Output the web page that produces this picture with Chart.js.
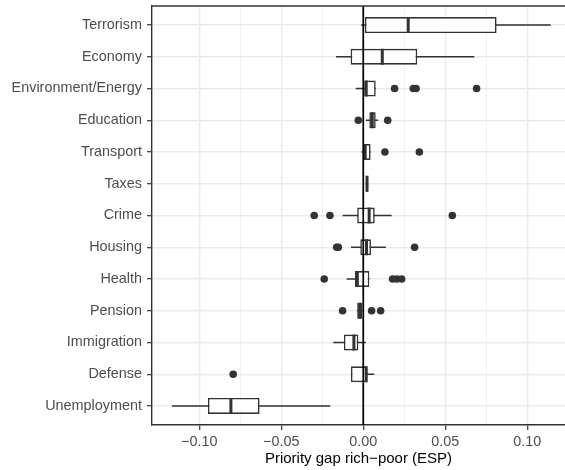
<!DOCTYPE html>
<html>
<head>
<meta charset="utf-8">
<script src="https://cdn.jsdelivr.net/npm/chart.js@4.4.1/dist/chart.umd.min.js"></script>
<style>
  html, body { margin: 0; padding: 0; background: #fff; }
  canvas { display: block; }
</style>
</head>
<body>
<canvas id="priorityGapChart" width="565" height="470"></canvas>
<script>
// topics, top to bottom
const categories = ['Terrorism', 'Economy', 'Environment/Energy', 'Education', 'Transport', 'Taxes',
    'Crime', 'Housing', 'Health', 'Pension', 'Immigration', 'Defense', 'Unemployment'];

// box plot summaries (priority gap rich - poor)
const whiskerLow  = [-0.0012, -0.0166, -0.0046, 0.0016, -0.0010, 0.0015, -0.0126, -0.0075, -0.0101, -0.0037, -0.0183, -0.0075, -0.1166];
const lowerQuart  = [ 0.0010, -0.0077,  0.0006, 0.0037,  0.0003, 0.0016, -0.0037, -0.0018, -0.0051, -0.0037, -0.0118, -0.0075, -0.0947];
const medians     = [ 0.0274,  0.0116,  0.0018, 0.0055,  0.0012, 0.0023,  0.0036,  0.0020, -0.0036, -0.0022, -0.0057,  0.0018, -0.0807];
const upperQuart  = [ 0.0813,  0.0329,  0.0076, 0.0076,  0.0045, 0.0030,  0.0070,  0.0047,  0.0037, -0.0006, -0.0030,  0.0023, -0.0632];
const whiskerHigh = [ 0.1143,  0.0677,  0.0076, 0.0091,  0.0045, 0.0030,  0.0173,  0.0138,  0.0037, -0.0006,  0.0016,  0.0067, -0.0201];
const outliers = [
    [],
    [],
    [0.0191, 0.0305, 0.0322, 0.0691],
    [-0.0030, 0.0149],
    [0.0132, 0.0342],
    [],
    [-0.0299, -0.0203, 0.0543],
    [-0.0162, -0.0152, 0.0313],
    [-0.0238, 0.0179, 0.0204, 0.0234],
    [-0.0126, 0.0051, 0.0106],
    [],
    [-0.0793],
    []
];

const xTicks = [-0.125, -0.1, -0.075, -0.05, -0.025, 0, 0.025, 0.05, 0.075, 0.1];
const referenceLine = 0;

const ink = '#333333';
const gridGrey = '#EBEBEB';
Chart.defaults.font.family = "'Liberation Sans', Arial, sans-serif";

function isMajor(v) {
    return Math.abs(v * 20 - Math.round(v * 20)) < 1e-6;
}

function formatTick(v) {
    if (!isMajor(v)) return '';
    let s = Math.abs(v).toFixed(2);
    return v < -1e-9 ? '\u2212' + s : s;
}

function noPadding(scale) {
    scale.paddingTop = 0;
    scale.paddingBottom = 0;
    scale.paddingLeft = 0;
    scale.paddingRight = 0;
}

let boxData = categories.map((c, i) => ({x: [lowerQuart[i], upperQuart[i]], y: i}));

let whiskerData = [];
let medianData = [];
let outlierData = [];
categories.forEach((c, i) => {
    whiskerData.push({x: whiskerLow[i], y: i}, {x: whiskerHigh[i], y: i}, {x: null, y: null});
    medianData.push({x: medians[i], y: i - 0.25}, {x: medians[i], y: i + 0.25}, {x: null, y: null});
    outliers[i].forEach(v => outlierData.push({x: v, y: i}));
});

let zeroData = [{x: referenceLine, y: -0.6}, {x: referenceLine, y: categories.length - 0.4}];

const panelBorder = {
    id: 'panelBorder',
    afterDatasetsDraw(chart) {
        let a = chart.chartArea;
        let ctx = chart.ctx;
        ctx.save();
        ctx.strokeStyle = ink;
        ctx.lineWidth = 1.4;
        ctx.beginPath();
        ctx.moveTo(a.left, a.top);
        ctx.lineTo(a.right, a.top);
        ctx.stroke();
        ctx.restore();
    }
};

new Chart(document.getElementById('priorityGapChart'), {
    type: 'scatter',
    data: {
        datasets: [
            {
                type: 'scatter',
                data: outlierData,
                pointRadius: 3.8,
                pointBackgroundColor: ink,
                pointBorderWidth: 0,
                order: 1
            },
            {
                type: 'scatter',
                data: zeroData,
                showLine: true,
                borderColor: '#000000',
                borderWidth: 1.7,
                pointRadius: 0,
                order: 2
            },
            {
                type: 'scatter',
                data: medianData,
                showLine: true,
                spanGaps: false,
                borderColor: ink,
                borderWidth: 3,
                borderCapStyle: 'butt',
                pointRadius: 0,
                order: 3
            },
            {
                type: 'bar',
                indexAxis: 'y',
                data: boxData,
                backgroundColor: '#ffffff',
                borderColor: ink,
                borderWidth: 1.6,
                borderSkipped: false,
                barPercentage: 0.5,
                categoryPercentage: 1,
                order: 4
            },
            {
                type: 'scatter',
                data: whiskerData,
                showLine: true,
                spanGaps: false,
                borderColor: ink,
                borderWidth: 1.6,
                pointRadius: 0,
                order: 5
            }
        ]
    },
    options: {
        responsive: false,
        animation: false,
        devicePixelRatio: 1,
        layout: {autoPadding: false, padding: {top: 6, right: 0, bottom: 0, left: 0}},
        plugins: {
            legend: {display: false},
            tooltip: {enabled: false}
        },
        scales: {
            x: {
                type: 'linear',
                min: -0.1288,
                max: 0.1230,
                offset: false,
                afterBuildTicks: scale => { scale.ticks = xTicks.map(v => ({value: v})); },
                afterFit: scale => { scale.height = 45; noPadding(scale); },
                grid: {
                    offset: false,
                    color: gridGrey,
                    lineWidth: ctx => (ctx.tick && isMajor(ctx.tick.value)) ? 1.4 : 0.7,
                    tickColor: ctx => (ctx.tick && isMajor(ctx.tick.value)) ? ink : 'rgba(0,0,0,0)',
                    tickLength: 5,
                    tickWidth: 1.2
                },
                border: {color: ink, width: 1.4},
                ticks: {
                    callback: v => formatTick(v),
                    color: '#4D4D4D',
                    font: {size: 14.4},
                    padding: 3,
                    maxRotation: 0,
                    autoSkip: false
                },
                title: {
                    display: true,
                    text: 'Priority gap rich\u2212poor (ESP)',
                    color: '#000000',
                    font: {size: 15},
                    padding: {top: 0, bottom: 2}
                }
            },
            y: {
                type: 'linear',
                min: -0.6,
                max: categories.length - 0.4,
                reverse: true,
                offset: false,
                afterBuildTicks: scale => { scale.ticks = categories.map((c, i) => ({value: i})); },
                afterFit: scale => { scale.width = 152; noPadding(scale); },
                grid: {
                    offset: false,
                    color: gridGrey,
                    lineWidth: 1.4,
                    tickColor: ink,
                    tickLength: 5,
                    tickWidth: 1.2
                },
                border: {color: ink, width: 1.4},
                ticks: {
                    callback: v => categories[v],
                    color: '#4D4D4D',
                    font: {size: 14.4},
                    padding: 5,
                    autoSkip: false
                }
            }
        }
    },
    plugins: [panelBorder]
});
</script>
</body>
</html>
